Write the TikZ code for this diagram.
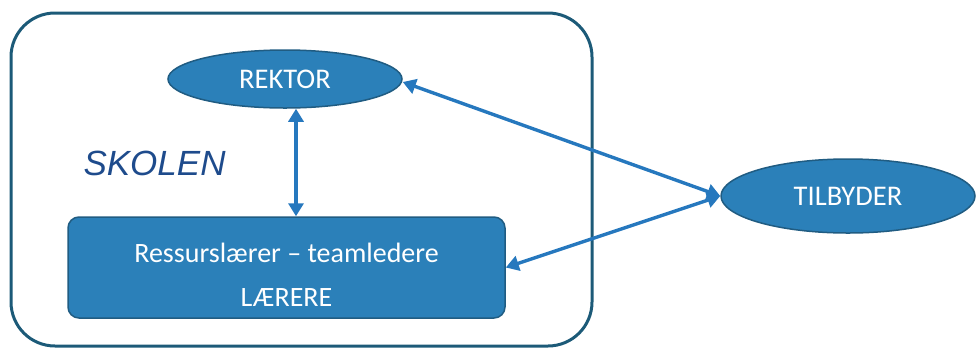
\documentclass[tikz,border=0pt]{standalone}
\usepackage{fontspec}
\setmainfont{Carlito}
\newfontfamily\arialfont{Liberation Sans}
\usetikzlibrary{shapes.geometric,arrows.meta}
\definecolor{boxfill}{RGB}{43,128,185}
\definecolor{boxedge}{RGB}{32,92,130}
\definecolor{frameedge}{RGB}{28,90,120}
\definecolor{arrowblue}{RGB}{38,120,190}
\definecolor{titleblue}{RGB}{30,75,140}
\tikzset{
  role/.style={ellipse, fill=boxfill, draw=boxedge, line width=1.5pt, text=white,
    font=\fontsize{28.5}{34}\selectfont, inner sep=0pt},
  unit/.style={rounded corners=11pt, fill=boxfill, draw=boxedge, line width=1.5pt,
    text=white, align=center, font=\fontsize{28}{34}\selectfont},
  link/.style={draw=arrowblue, line width=3.4pt,
    {Triangle[length=13pt,width=15pt]}-{Triangle[length=13pt,width=15pt]}}
}
\begin{document}
\begin{tikzpicture}[x=1pt,y=-1pt]
\useasboundingbox (0,0) rectangle (976,349);
% school frame
\draw[frameedge, line width=3pt, rounded corners=44pt] (11,13) rectangle (592,346);
\node[font=\arialfont\itshape\fontsize{35}{40}\selectfont, text=titleblue, anchor=west] (skolen) at (80,163) {SKOLEN};
% actors
\node[role, minimum width=234pt, minimum height=58pt] (rektor) at (285,79) {REKTOR};
\node[unit, minimum width=437pt, minimum height=101pt] (laerere) at (286.5,267.5)
  {\rule{0pt}{34pt}Ressurslærer -- teamledere\\[10pt]LÆRERE};
\node[role, minimum width=254pt, minimum height=74pt] (tilbyder) at (848,196) {TILBYDER};
% links
\draw[link] (rektor.south -| 296,0) -- (laerere.north -| 296,0);
\draw[link] (rektor.east) ++(0,3) coordinate (r1) -- (tilbyder.west);
\draw[link] (laerere.east) -- (tilbyder.west);
\end{tikzpicture}
\end{document}
